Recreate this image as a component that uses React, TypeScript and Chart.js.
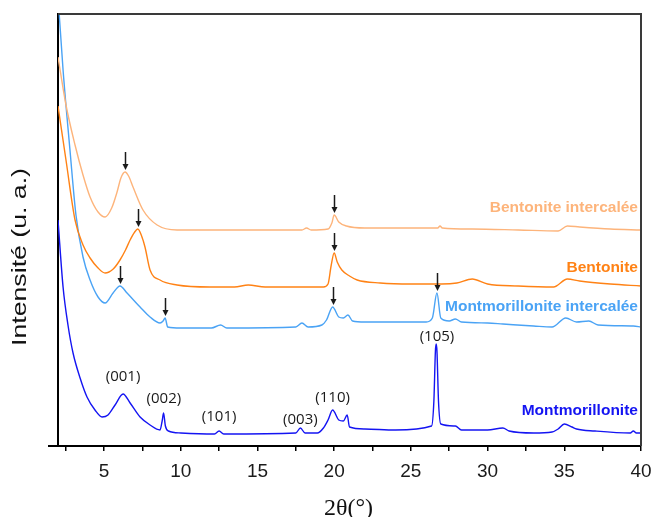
import React, { useEffect, useRef } from "react";
import { Chart, registerables } from "chart.js";
Chart.register(...registerables);

// ---- Data (2θ in degrees, intensity in arbitrary units) ----
const bentoniteIntercaleeX = [2.0, 2.52, 3.11, 3.63, 4.09, 4.61, 5.07, 5.5, 5.85, 6.1, 6.37, 6.6, 6.89, 7.54, 8.46, 9.76, 12, 15, 17.9, 18.2, 18.5, 19.6, 19.85, 20.0, 20.3, 20.8, 22, 25, 26.75, 26.9, 27.05, 29, 32, 34.6, 35.2, 36, 38, 40];
const bentoniteIntercaleeY = [389, 341, 301, 271, 249, 234, 229, 238, 254, 268, 274, 270, 259, 236, 221, 216, 216, 216, 216, 218, 216, 217, 223, 231, 224, 220, 218, 218, 218, 220, 218, 217, 216, 215, 220, 219, 217, 216];

const bentoniteX = [2.0, 2.52, 3.11, 3.63, 4.09, 4.61, 5.07, 5.6, 6.04, 6.4, 6.7, 7.0, 7.2, 7.45, 7.67, 8.0, 8.65, 9.76, 11.9, 13.5, 14.4, 15.5, 19.3, 19.6, 19.8, 20.0, 20.2, 20.5, 21.0, 21.5, 23, 25, 27, 28, 29.0, 30, 32, 34.3, 35.2, 36, 38, 40];
const bentoniteY = [340, 286, 226, 201, 188, 178, 173, 177, 186, 196, 206, 214, 217, 210, 199, 176, 166, 161, 159, 159, 161, 159, 159, 162, 180, 193, 184, 176, 170, 166, 163, 162, 162, 163, 167, 162, 160, 159, 167, 165, 162, 160];

const montmorilloniteIntercaleeX = [2.0, 2.33, 2.78, 3.17, 3.63, 4.09, 4.61, 5.07, 5.59, 6.04, 6.5, 7.35, 8.0, 8.65, 8.85, 8.98, 9.15, 10, 12.0, 12.6, 13, 17.5, 17.9, 18.3, 19.2, 19.5, 19.9, 20.3, 20.6, 20.9, 21.2, 22, 24, 26, 26.4, 26.7, 26.95, 27.5, 27.9, 28.3, 30, 31, 33, 34.2, 35.1, 35.8, 36.6, 37.2, 39.5, 40];
const montmorilloniteIntercaleeY = [450, 376, 296, 231, 189, 166, 149, 143, 153, 160, 153, 139, 129, 123, 125, 128, 119, 118, 118, 121, 118, 119, 123, 119, 121, 126, 139, 129, 128, 131, 125, 124, 124, 124, 128, 153, 128, 125, 127, 124, 123, 122, 120, 119, 128, 124, 125, 121, 120, 119];

const montmorilloniteX = [2.0, 2.33, 2.65, 2.98, 3.44, 3.89, 4.41, 4.87, 5.26, 5.72, 6.24, 6.7, 7.35, 8.0, 8.65, 8.8, 8.88, 9.0, 9.2, 10, 12.2, 12.5, 12.8, 17.5, 17.8, 18.1, 18.9, 19.3, 19.6, 19.9, 20.3, 20.6, 20.85, 21.0, 22, 24, 26.35, 26.5, 26.6, 26.65, 26.7, 26.8, 26.95, 27.9, 28.3, 30, 31.0, 31.4, 33, 34.2, 34.6, 35.0, 35.5, 35.8, 37, 39.3, 39.5, 39.7, 40];
const montmorilloniteY = [226, 159, 121, 93, 68, 49, 36, 29, 31, 41, 52, 43, 29, 21, 16, 26, 33, 20, 15, 13, 12, 15, 12, 13, 18, 13, 13, 18, 26, 36, 26, 25, 31, 19, 17, 16, 20, 45, 95, 102, 95, 45, 22, 20, 16, 16, 18, 15, 13, 14, 17, 22, 19, 17, 15, 13, 15, 13, 13];

const seriesNames = ["Bentonite intercalée", "Bentonite", "Montmorillonite intercalée", "Montmorillonite"];
const seriesColors = ["#FDB47B", "#FF8215", "#4AA3F5", "#1414F2"];
const seriesLabelX = 39.8;
const seriesLabelY = [238, 178, 139, 35];

const arrowX = [6.37, 20.0, 7.2, 20.0, 6.04, 8.98, 19.9, 26.7];
const arrowY = [274, 231, 217, 193, 160, 128, 139, 153];

const peakLabels = ["(001)", "(002)", "(101)", "(003)", "(110)", "(105)"];
const peakLabelX = [6.24, 8.9, 12.5, 17.8, 19.9, 26.7];
const peakLabelY = [69, 47, 29, 26, 48, 109];

const xTicks = [2.5, 5, 7.5, 10, 12.5, 15, 17.5, 20, 22.5, 25, 27.5, 30, 32.5, 35, 37.5, 40];
const xMin = 2;
const xMax = 40;
const yMin = 0;
const yMax = 432;

const xTitle = "2θ(°)";
const yTitle = "Intensité (u. a.)";

const toPts = (xs: number[], ys: number[]) => xs.map((x, i) => ({ x, y: ys[i] }));

export default function App() {
  const ref = useRef<HTMLCanvasElement>(null);
  useEffect(() => {
    document.body.style.margin = "0";
    const overlay = {
      id: "overlay",
      afterDraw(chart: any) {
        const { ctx, chartArea: ca, scales } = chart;
        const xs = scales.x;
        const ys = scales.y;
        ctx.save();
        // frame top & right
        ctx.strokeStyle = "#3a3a3a";
        ctx.lineWidth = 2;
        ctx.beginPath();
        ctx.moveTo(ca.left, ca.top);
        ctx.lineTo(ca.right, ca.top);
        ctx.lineTo(ca.right, ca.bottom);
        ctx.stroke();
        // small extension of x axis to the left
        ctx.strokeStyle = "#000";
        ctx.beginPath();
        ctx.moveTo(ca.left - 10, ca.bottom);
        ctx.lineTo(ca.left, ca.bottom);
        ctx.stroke();

        // arrows
        ctx.strokeStyle = "#1a1a1a";
        ctx.fillStyle = "#1a1a1a";
        ctx.lineWidth = 1.5;
        arrowX.forEach((ax, i) => {
          const px = Math.round(xs.getPixelForValue(ax)) + 0.5;
          const tip = ys.getPixelForValue(arrowY[i]) - 2;
          ctx.beginPath();
          ctx.moveTo(px, tip - 18);
          ctx.lineTo(px, tip - 4);
          ctx.stroke();
          ctx.beginPath();
          ctx.moveTo(px - 3, tip - 6);
          ctx.lineTo(px + 3, tip - 6);
          ctx.lineTo(px, tip);
          ctx.closePath();
          ctx.fill();
        });

        // peak labels
        ctx.fillStyle = "#1a1a1a";
        ctx.font = "15px 'Open Sans'";
        ctx.textAlign = "center";
        ctx.textBaseline = "middle";
        peakLabels.forEach((t, i) => {
          ctx.fillText(t, xs.getPixelForValue(peakLabelX[i]), ys.getPixelForValue(peakLabelY[i]));
        });

        // series labels
        ctx.font = "bold 15.5px 'Liberation Sans'";
        ctx.textAlign = "right";
        seriesNames.forEach((t, i) => {
          ctx.fillStyle = seriesColors[i];
          ctx.fillText(t, xs.getPixelForValue(seriesLabelX), ys.getPixelForValue(seriesLabelY[i]));
        });

        // y title (stretched along its baseline)
        ctx.fillStyle = "#111";
        ctx.font = "20px 'Liberation Sans'";
        ctx.textAlign = "center";
        ctx.textBaseline = "middle";
        const w = ctx.measureText(yTitle).width;
        ctx.translate(20, (ca.top + ca.bottom) / 2 + 27);
        ctx.rotate(-Math.PI / 2);
        ctx.scale(178 / w, 1);
        ctx.fillText(yTitle, 0, 0);
        ctx.restore();

        // x title
        ctx.save();
        ctx.fillStyle = "#111";
        ctx.font = "24px 'Liberation Serif'";
        ctx.textAlign = "center";
        ctx.textBaseline = "alphabetic";
        ctx.fillText(xTitle, (ca.left + ca.right) / 2 - 1, 515);
        ctx.restore();
      },
    };

    const mk = (xs: number[], ys: number[], color: string) => ({
      data: toPts(xs, ys),
      borderColor: color,
      borderWidth: 1.4,
      pointRadius: 0,
      fill: false,
      cubicInterpolationMode: "monotone" as const,
    });

    const chart = new Chart(ref.current as HTMLCanvasElement, {
      type: "line",
      data: {
        datasets: [
          mk(bentoniteIntercaleeX, bentoniteIntercaleeY, seriesColors[0]),
          mk(bentoniteX, bentoniteY, seriesColors[1]),
          mk(montmorilloniteIntercaleeX, montmorilloniteIntercaleeY, seriesColors[2]),
          mk(montmorilloniteX, montmorilloniteY, seriesColors[3]),
        ],
      },
      options: {
        animation: false,
        responsive: false,
        layout: { padding: { top: 14, right: 12, left: 0, bottom: 0 } },
        plugins: { legend: { display: false }, tooltip: { enabled: false } },
        scales: {
          x: {
            type: "linear",
            min: xMin,
            max: xMax,
            afterFit: (s: any) => { s.height = 71; s.paddingLeft = 0; s.paddingRight = 0; },
            afterBuildTicks: (s: any) => { s.ticks = xTicks.map((v) => ({ value: v })); },
            ticks: {
              autoSkip: false,
              maxRotation: 0,
              padding: 9,
              color: "#1a1a1a",
              font: { family: "'Liberation Sans'", size: 19 },
              callback: (v: any) => (Number(v) % 5 === 0 ? String(v) : ""),
            },
            grid: { drawOnChartArea: false, drawTicks: true, tickLength: 5, color: "#000", lineWidth: 1.5 },
            border: { display: true, color: "#000", width: 2 },
          },
          y: {
            type: "linear",
            min: yMin,
            max: yMax,
            afterFit: (s: any) => { s.width = 58; s.paddingTop = 0; s.paddingBottom = 0; },
            ticks: { display: false },
            grid: { display: false },
            border: { display: true, color: "#000", width: 2 },
          },
        },
      },
      plugins: [overlay],
    } as any);
    return () => chart.destroy();
  }, []);
  return (
    <div style={{ width: 653, height: 517 }}>
      <canvas ref={ref} width={653} height={517} style={{ display: "block" }} />
    </div>
  );
}
